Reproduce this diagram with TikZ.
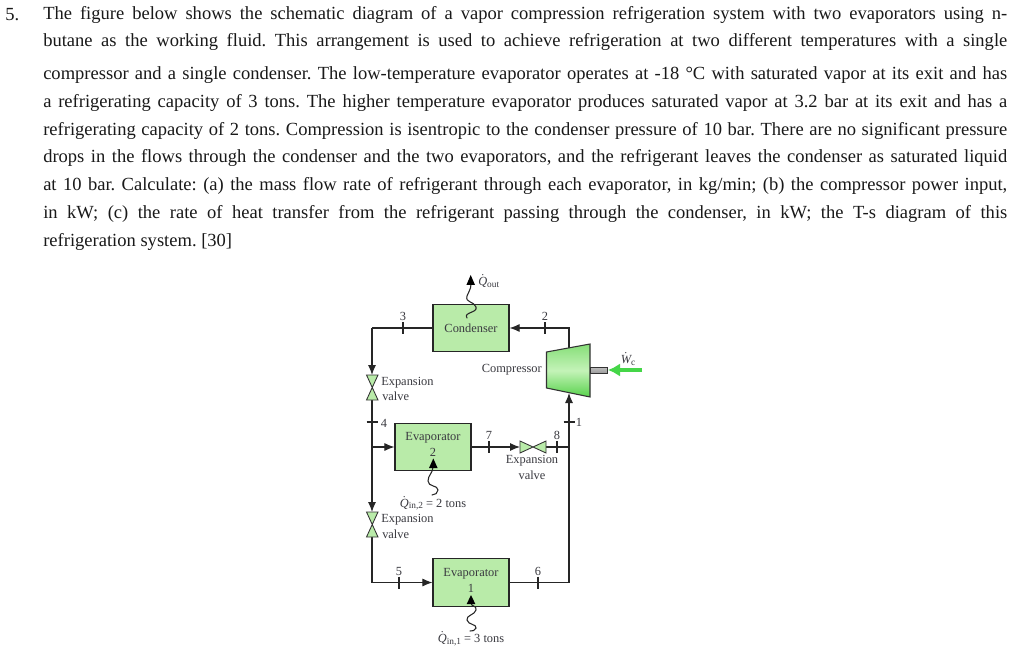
\documentclass[tikz,border=0pt]{standalone}
\usepackage{fontspec}
\setmainfont{Liberation Serif}
\usetikzlibrary{arrows.meta}
\definecolor{boxgreen}{HTML}{B9EBA9}
\definecolor{inkgray}{HTML}{3A3A40}
\definecolor{arrowgreen}{HTML}{45D648}
\definecolor{comptop}{HTML}{86DE78}
\definecolor{compmid}{HTML}{C4F3B8}
\definecolor{compbot}{HTML}{58D24C}
\newcommand{\Qd}{\ensuremath{\dot{\hbox{\itshape Q}}}}
\newcommand{\Wd}{\ensuremath{\dot{\hbox{\itshape W}}}}
\newcommand{\lowsub}[1]{\raisebox{-0.25ex}{\fontsize{7pt}{7pt}\selectfont #1}}
\tikzset{
  x=0.75pt,y=-0.75pt,
  pipe/.style={line width=0.8pt,draw=black!85},
  flow/.style={pipe,-{Latex[length=7.5pt,width=6pt]}},
  unit/.style={draw=black!85,line width=0.85pt,fill=boxgreen,inner sep=0pt,minimum width=57pt,minimum height=35.5pt},
  para/.style={anchor=west,inner sep=0pt,font=\fontsize{13.9pt}{15pt}\selectfont\frenchspacing,text=black!90},
  lab/.style={inner sep=0pt,yshift=-1.1pt,font=\fontsize{9.3pt}{11pt}\selectfont,text=inkgray},
  num/.style={inner sep=0pt,font=\fontsize{9.3pt}{11pt}\selectfont,text=inkgray},
  valveshape/.style={draw=black!80,line width=0.65pt,fill=boxgreen},
  wave/.style={line width=0.8pt,draw=black!85,line cap=round},
  heat/.style={fill=black,draw=none},
  tick/.style={line width=0.8pt,draw=black!85}
}
\begin{document}
\begin{tikzpicture}
\useasboundingbox[fill=white] (0,0) rectangle (1024,659);
% paragraph
\newcommand{\pline}[3]{\node[para] (#1) at (43,#2) {\makebox[723pt][s]{#3}};}
\node[para] (numfive) at (5,14.5) {5.};
\pline{l1}{14.5}{The figure below shows the schematic diagram of a vapor compression refrigeration system with two evaporators using n-}
\pline{l2}{41.5}{butane as the working fluid. This arrangement is used to achieve refrigeration at two different temperatures with a single}
\pline{l3}{75.5}{compressor and a single condenser. The low-temperature evaporator operates at -18 °C with saturated vapor at its exit and has}
\pline{l4}{102.5}{a refrigerating capacity of 3 tons. The higher temperature evaporator produces saturated vapor at 3.2 bar at its exit and has a}
\pline{l5}{130.5}{refrigerating capacity of 2 tons. Compression is isentropic to the condenser pressure of 10 bar. There are no significant pressure}
\pline{l6}{157.5}{drops in the flows through the condenser and the two evaporators, and the refrigerant leaves the condenser as saturated liquid}
\pline{l7}{185.5}{at 10 bar. Calculate: (a) the mass flow rate of refrigerant through each evaporator, in kg/min; (b) the compressor power input,}
\pline{l8}{213.5}{in kW; (c) the rate of heat transfer from the refrigerant passing through the condenser, in kW; the T-s diagram of this}
\node[para] (l9) at (43,241.5) {refrigeration system. [30]};

% units
\node[unit] (cond) at (471,328) {};
\node[unit] (evap2) at (433,447) {};
\node[unit] (evap1) at (471,582.5) {};

% ports
\coordinate (cornerTL) at (372,328);
\coordinate (v1top) at (372,375);
\coordinate (v1bot) at (372,400);
\coordinate (j4) at (372,447);
\coordinate (v2top) at (372,512);
\coordinate (v2bot) at (372,537);
\coordinate (cornerBL) at (372,582.5);
\coordinate (cornerBR) at (569,582.5);
\coordinate (j8) at (569,447);
\coordinate (compIn) at (569,393);
\coordinate (compOut) at (569,349);
\coordinate (cornerTR) at (569,328);
\coordinate (v3l) at (520,447);
\coordinate (v3r) at (546,447);

% pipes
\draw[pipe] (cond.west) -- (cornerTL);
\draw[flow] (cornerTL) -- (v1top);
\draw[pipe] (v1bot) -- (j4);
\draw[flow] (j4) -- (evap2.west);
\draw[flow] (j4) -- (v2top);
\draw[pipe] (v2bot) -- (cornerBL);
\draw[flow] (cornerBL) -- (evap1.west);
\draw[pipe] (evap1.east) -- (cornerBR) -- (j8);
\draw[flow] (j8) -- (compIn);
\draw[flow] (compOut) -- (cornerTR) -- (cond.east);
\draw[flow] (evap2.east) -- (v3l);
\draw[pipe] (v3r) -- (j8);

% ticks
\draw[tick] (403,322) -- (403,334);
\draw[tick] (545,322) -- (545,334);
\draw[tick] (366.5,422) -- (377.5,422);
\draw[tick] (563.5,422) -- (574.5,422);
\draw[tick] (489,441) -- (489,453);
\draw[tick] (557,441) -- (557,453);
\draw[tick] (399,576.5) -- (399,588.5);
\draw[tick] (538,576.5) -- (538,588.5);

% valves
\draw[valveshape] (366.5,375) -- (378,375) -- (366.5,400) -- (378,400) -- cycle;
\draw[valveshape] (366.5,512) -- (378,512) -- (366.5,537) -- (378,537) -- cycle;
\draw[valveshape] (520,441) -- (546,453) -- (546,441) -- (520,453) -- cycle;

% numbers
\node[num] (n3) at (403,316) {3};
\node[num] (n2) at (545,316) {2};
\node[num] (n4) at (384,423) {4};
\node[num] (n1) at (579,422) {1};
\node[num] (n7) at (489,435) {7};
\node[num] (n8) at (557,435) {8};
\node[num] (n5) at (399,571) {5};
\node[num] (n6) at (538,571) {6};

% compressor
\shade[top color=comptop,bottom color=compbot,middle color=compmid,draw=black!80,line width=0.8pt]
  (546.5,352) -- (590,344) -- (590,397) -- (546.5,388) -- cycle;
\shade[top color=gray!50,bottom color=gray!80,draw=black!80,line width=0.7pt] (590,367) rectangle (607,373.5);
\coordinate (shaftEnd) at (608,370);
\coordinate (workStart) at (642,370);
\draw[arrowgreen,line width=3pt,-{Latex[length=9pt,width=10pt]}] (workStart) -- (shaftEnd);

% heat waves
\draw[wave] (467,318) .. controls (463,312) and (478,313) .. (476,307) .. controls (474,301) and (465,303) .. (467,296) .. controls (468,292) and (471,290) .. (471,284);
\fill[heat] (470.7,275) -- (475,285) -- (466.4,285) -- cycle;
\draw[wave] (433,467) .. controls (433,473) and (428,475) .. (428,481) .. controls (428,487) and (438,485) .. (438,490) .. controls (438,493) and (435,495) .. (432,495);
\fill[heat] (433.3,458.5) -- (437.6,468) -- (429,468) -- cycle;
\draw[wave] (471,603) .. controls (471,607) and (477,605) .. (476,610) .. controls (475,615) and (466,615) .. (467,620) .. controls (468,625) and (477,624) .. (476,628) .. controls (475,631) and (472,631) .. (470,631);
\fill[heat] (471,595) -- (475.3,604) -- (466.7,604) -- cycle;

% labels
\node[lab] (tcond) at (471,327) {Condenser};
\node[lab,anchor=east] (tcomp) at (542,368.5) {Compressor};
\node[lab,anchor=west] (te1) at (381,381) {Expansion};
\node[lab,anchor=west] (tv1) at (382,395) {valve};
\node[lab,anchor=west] (te2) at (381,518) {Expansion};
\node[lab,anchor=west] (tv2) at (382,532.5) {valve};
\node[lab] (te3) at (532,459) {Expansion};
\node[lab] (tv3) at (532,473.5) {valve};
\node[lab] (tev2) at (433,436.5) {Evaporator};
\node[lab] (tev2b) at (433,450.5) {2};
\node[lab] (tev1) at (471,572) {Evaporator};
\node[lab] (tev1b) at (471,586.5) {1};
\node[lab,anchor=west] (tqout) at (478,280) {\Qd\lowsub{out}};
\node[lab] (twc) at (628,357.5) {\Wd\lowsub{c}};
\node[lab] (tq2) at (433,501.5) {\Qd\lowsub{in,2} = 2 tons};
\node[lab] (tq1) at (471,637) {\Qd\lowsub{in,1} = 3 tons};
\end{tikzpicture}
\end{document}
